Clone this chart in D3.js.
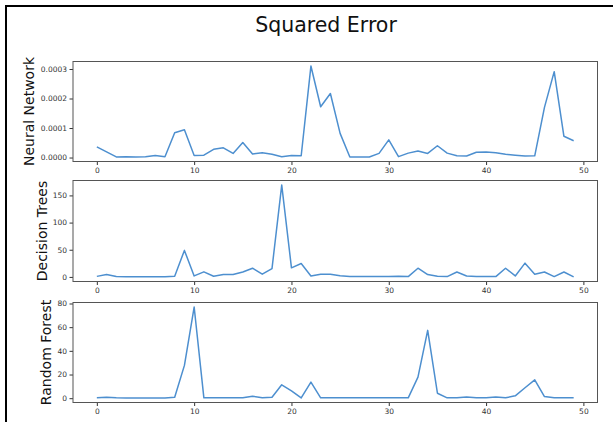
<!DOCTYPE html>
<html>
<head>
<meta charset="utf-8">
<script src="https://cdn.jsdelivr.net/npm/d3@7"></script>
<style>
  html, body { margin: 0; padding: 0; background: #fff; }
  svg { display: block; }
</style>
</head>
<body>
<svg id="chart" width="613" height="422"></svg>
<script>
const chartTitle = "Squared Error";
const xTicks = [0, 10, 20, 30, 40, 50];
const panelLabels = ["Neural Network", "Decision Trees", "Random Forest"];

const neuralNetwork = [
  3.6e-5, 1.9e-5, 0.2e-5, 0.3e-5, 0.2e-5, 0.3e-5, 0.7e-5, 0.3e-5, 8.4e-5, 9.4e-5,
  0.7e-5, 0.8e-5, 2.8e-5, 3.3e-5, 1.4e-5, 5.1e-5, 1.2e-5, 1.6e-5, 1.1e-5, 0.3e-5,
  0.7e-5, 0.6e-5, 31.0e-5, 17.2e-5, 21.7e-5, 8.2e-5, 0.2e-5, 0.2e-5, 0.2e-5, 1.4e-5,
  6.0e-5, 0.3e-5, 1.5e-5, 2.2e-5, 1.4e-5, 4.0e-5, 1.5e-5, 0.6e-5, 0.5e-5, 1.8e-5,
  1.9e-5, 1.6e-5, 1.1e-5, 0.8e-5, 0.5e-5, 0.6e-5, 17.0e-5, 29.1e-5, 7.2e-5, 5.7e-5
];
const decisionTrees = [
  1, 4.3, 0.6, 0.5, 0.5, 0.5, 0.5, 0.5, 1.2, 48.8,
  1.8, 9.3, 1.2, 4.3, 4.3, 9, 16, 5, 15.4, 169,
  16.7, 24.7, 1.8, 5, 5, 2, 0.6, 0.6, 0.6, 0.6,
  0.6, 1.2, 0.6, 16, 4.3, 1.2, 0.6, 9, 1.8, 0.6,
  0.6, 0.6, 16, 1.8, 25.3, 5, 9, 0.6, 9, 0
];
const randomForest = [
  0.3, 0.8, 0.3, 0.2, 0.2, 0.2, 0.2, 0.2, 0.8, 27.7,
  77, 0.3, 0.3, 0.3, 0.3, 0.3, 1.7, 0.3, 0.8, 11.3,
  6.2, 0.2, 13.6, 0.3, 0.3, 0.3, 0.3, 0.3, 0.3, 0.3,
  0.3, 0.3, 0.3, 17.8, 57.3, 4.2, 0.3, 0.3, 1.1, 0.3,
  0.3, 1.1, 0.3, 2.0, 8.8, 15.5, 1.4, 0.3, 0.3, 0.3
];
const yTicksNN = [0, 0.0001, 0.0002, 0.0003];
const yTicksDT = [0, 50, 100, 150];
const yTicksRF = [0, 20, 40, 60, 80];

const panels = [
  { label: panelLabels[0], values: neuralNetwork, ticks: yTicksNN, fmt: d3.format(".4f"), top: 61.5, bottom: 161.5, labelX: 34 },
  { label: panelLabels[1], values: decisionTrees, ticks: yTicksDT, fmt: d3.format("d"), top: 180.5, bottom: 281.5, labelX: 46.5 },
  { label: panelLabels[2], values: randomForest, ticks: yTicksRF, fmt: d3.format("d"), top: 302.5, bottom: 402.5, labelX: 50.5 }
];

const svg = d3.select("#chart");
const left = 73, right = 597.5;
const font = "DejaVu Sans, sans-serif";
const lineColor = "#4d8fcf";

// outer border (left + top)
svg.append("path").attr("d", "M6,422 L6,6 L613,6")
  .attr("fill", "none").attr("stroke", "#000").attr("stroke-width", 2);

svg.append("text").attr("x", 326).attr("y", 32).attr("text-anchor", "middle")
  .attr("font-family", font).attr("font-size", 20.5).attr("fill", "#111").text(chartTitle);

const n = neuralNetwork.length;
const xPad = (n - 1) * 0.05;
const x = d3.scaleLinear().domain([0 - xPad, n - 1 + xPad]).range([left, right]);

panels.forEach(p => {
  const [mn, mx] = d3.extent(p.values);
  const pad = (mx - mn) * 0.05;
  const y = d3.scaleLinear().domain([mn - pad, mx + pad]).range([p.bottom, p.top]);
  const g = svg.append("g");

  const xAxis = g.append("g").attr("transform", `translate(0,${p.bottom})`)
    .call(d3.axisBottom(x).tickValues(xTicks).tickSize(3.5).tickPadding(2.5).tickFormat(d3.format("d")));
  const yAxis = g.append("g").attr("transform", `translate(${left},0)`)
    .call(d3.axisLeft(y).tickValues(p.ticks).tickSize(3.5).tickPadding(2.5).tickFormat(p.fmt));
  [xAxis, yAxis].forEach(a => {
    a.select(".domain").remove();
    a.selectAll("line").attr("stroke", "#333");
    a.selectAll("text").attr("font-family", font).attr("font-size", 7.5).attr("fill", "#333");
  });

  const line = d3.line().x((d, i) => x(i)).y(d => y(d));
  g.append("path").datum(p.values).attr("d", line)
    .attr("fill", "none").attr("stroke", lineColor).attr("stroke-width", 1.5)
    .attr("stroke-linejoin", "round");

  g.append("rect").attr("x", left).attr("y", p.top)
    .attr("width", right - left).attr("height", p.bottom - p.top)
    .attr("fill", "none").attr("stroke", "#555").attr("stroke-width", 1);

  g.append("text")
    .attr("transform", `translate(${p.labelX},${(p.top + p.bottom) / 2}) rotate(-90)`)
    .attr("text-anchor", "middle").attr("font-family", font).attr("font-size", 14)
    .attr("fill", "#111").text(p.label);
});
</script>
</body>
</html>
